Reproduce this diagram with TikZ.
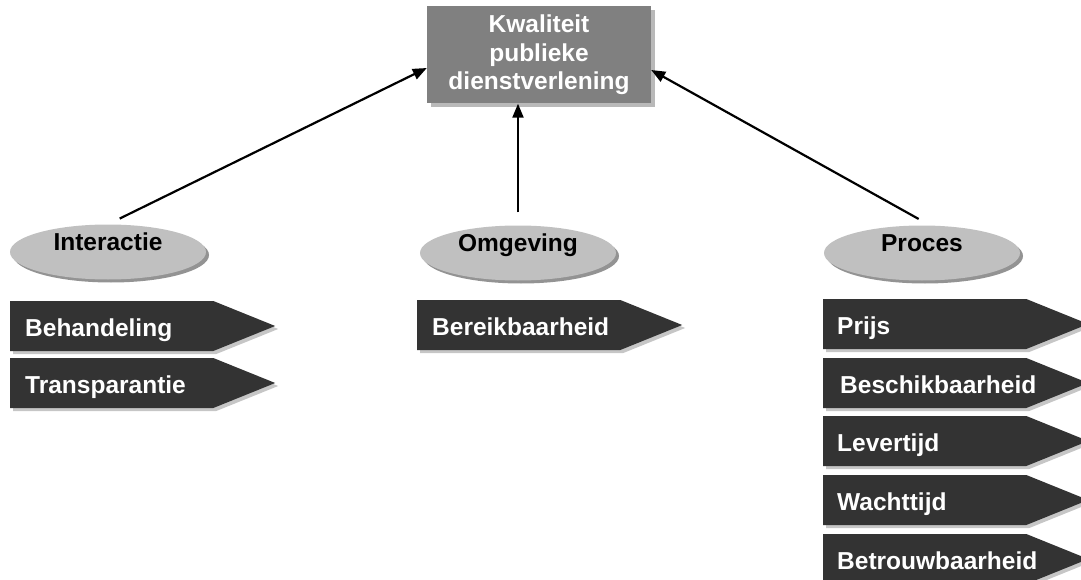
\documentclass[tikz,border=0pt]{standalone}
\usepackage{fontspec}
\setmainfont{Liberation Sans}
\usetikzlibrary{arrows.meta,shapes,shadows}

\definecolor{boxgray}{RGB}{128,128,128}
\definecolor{ovalgray}{RGB}{192,192,192}
\definecolor{tagdark}{RGB}{51,51,51}

\begin{document}
\begin{tikzpicture}
  [x=1pt,y=-1pt,inner sep=0pt,font=\bfseries\fontsize{24.5}{28.5}\selectfont,
   topbox/.style={rectangle,fill=boxgray,text=white,align=center,
     minimum width=224,minimum height=97,
     drop shadow={shadow xshift=4pt,shadow yshift=-4pt,fill=gray!55,opacity=1}},
   dim/.style={ellipse,fill=ovalgray,minimum width=196,minimum height=55,
     text height=10pt,text depth=12.5pt,
     drop shadow={shadow xshift=3pt,shadow yshift=-3pt,fill=gray!85,opacity=1}},
   tag/.style={signal,signal to=east,signal pointer angle=44,fill=tagdark,
     anchor=west,minimum width=265,minimum height=50,
     drop shadow={shadow xshift=3pt,shadow yshift=-3pt,fill=gray!45,opacity=1}},
   tagtext/.style={anchor=west,text=white,text height=21pt,text depth=1pt},
   link/.style={line width=2.2pt,arrows={-{Triangle[length=14pt,width=11pt]}}}]
  \useasboundingbox (0,0) rectangle (1081,580);

  \node[topbox] (kpd) at (539,55) {Kwaliteit\\publieke\\dienstverlening};

  \node[dim] (inter) at (108,252) {Interactie};
  \node[dim] (omg) at (518,253) {Omgeving};
  \node[dim] (proc) at (922,253) {Proces};

  \draw[link,shorten <=13pt] (inter.north) -- ([yshift=-13pt]kpd.west);
  \draw[link,shorten <=13pt] (omg.north) -- (omg.north |- kpd.south);
  \draw[link,shorten <=13pt] ([xshift=8pt]proc.north) -- ([yshift=-15pt]kpd.east);

  % Interactie
  \node[tag] (beh) at (10,326) {};
  \node[tagtext] (behtxt) at ([xshift=15pt]beh.west) {Behandeling};
  \node[tag] (tra) at (10,383) {};
  \node[tagtext] (tratxt) at ([xshift=15pt]tra.west) {Transparantie};

  % Omgeving
  \node[tag] (ber) at (417,325) {};
  \node[tagtext] (bertxt) at ([xshift=15pt]ber.west) {Bereikbaarheid};

  % Proces
  \node[tag] (pri) at (823,324) {};
  \node[tagtext] (pritxt) at ([xshift=14pt]pri.west) {Prijs};
  \node[tag] (bes) at (823,383) {};
  \node[tagtext] (bestxt) at ([xshift=17pt]bes.west) {Beschikbaarheid};
  \node[tag] (lev) at (823,441) {};
  \node[tagtext] (levtxt) at ([xshift=14pt]lev.west) {Levertijd};
  \node[tag] (wac) at (823,500) {};
  \node[tagtext] (wactxt) at ([xshift=14pt]wac.west) {Wachttijd};
  \node[tag] (bet) at (823,559) {};
  \node[tagtext] (bettxt) at ([xshift=14pt]bet.west) {Betrouwbaarheid};
\end{tikzpicture}
\end{document}
